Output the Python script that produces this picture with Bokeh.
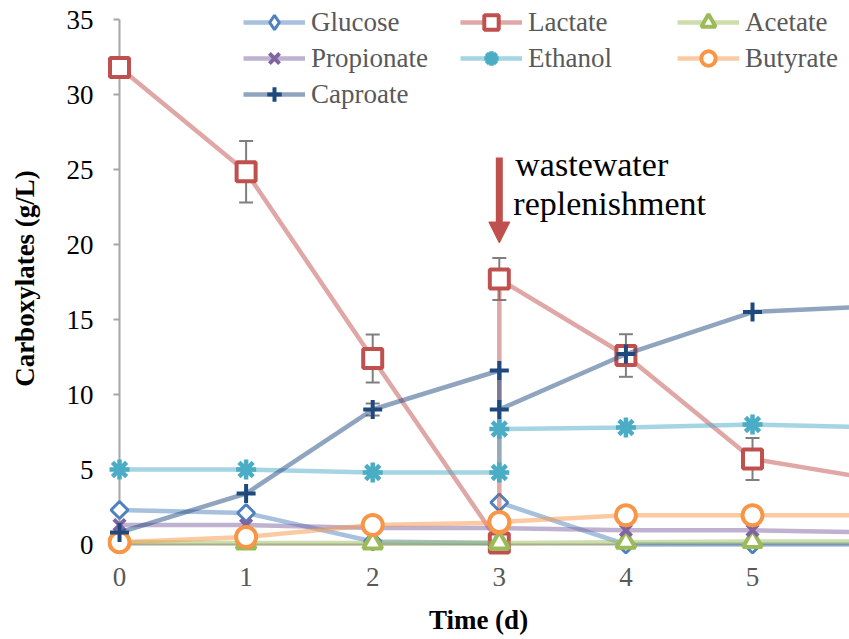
import numpy as np
from bokeh.plotting import figure
from bokeh.models import (Range1d, FixedTicker, Legend, LegendItem, Whisker, TeeHead,
                          Arrow, NormalHead, LinearAxis, Label, ColumnDataSource)
from bokeh.embed import file_html
from bokeh.resources import INLINE

# ---- data ----
time_d = [0, 1, 2, 3, 3, 4, 5, 6]   # day 3 sampled before and after wastewater replenishment
glucose = [2.3, 2.1, 0.2, 0.1, 2.8, 0.0, 0.0, 0.0]
lactate = [31.8, 24.85, 12.4, 0.1, 17.7, 12.6, 5.7, 4.3]
acetate = [0.15, 0.1, 0.1, 0.1, 0.1, 0.15, 0.2, 0.2]
propionate = [1.3, 1.3, 1.1, 1.1, 1.1, 0.95, 0.95, 0.8]
ethanol = [5.0, 5.0, 4.8, 4.8, 7.7, 7.8, 8.0, 7.8]
butyrate = [0.15, 0.5, 1.3, 1.45, 1.5, 1.95, 1.95, 1.95]
caproate = [0.8, 3.4, 9.0, 11.6, 9.0, 12.7, 15.5, 15.9]

lactate_err = [0, 2.05, 1.6, 0, 1.4, 1.42, 1.4, 0]
caproate_err = [0, 0, 0.4, 0, 0, 0, 0, 0]

x_ticks = [0, 1, 2, 3, 4, 5]
y_ticks = [0, 5, 10, 15, 20, 25, 30, 35]

note_lines = ["wastewater", "replenishment"]
note_y = [24.13, 21.47]
note_day = 3

FONT = "Times New Roman"
AXIS_GRAY = "#A6A6A6"

p = figure(width=849, height=639, x_range=Range1d(-0.0948, 5.766), y_range=Range1d(-0.8, 36.27),
           output_backend="svg", toolbar_location=None,
           min_border_left=107, min_border_right=0, min_border_top=0, min_border_bottom=83)
p.xgrid.visible = False
p.ygrid.visible = False
p.outline_line_color = None
p.background_fill_color = "white"
p.border_fill_color = "white"

# y axis: labels only (line and ticks drawn by the helper axis at x=0)
yax = p.yaxis[0]
yax.ticker = FixedTicker(ticks=y_ticks)
yax.axis_line_color = None
yax.major_tick_line_color = None
yax.minor_tick_line_color = None
yax.major_tick_out = 0
yax.major_tick_in = 0
yax.major_label_text_font = FONT
yax.major_label_text_font_size = "27px"
yax.major_label_text_color = "#000000"
yax.major_label_standoff = 14
yax.axis_label = "Carboxylates (g/L)"
yax.axis_label_text_font = FONT
yax.axis_label_text_font_size = "27px"
yax.axis_label_text_font_style = "bold"
yax.axis_label_text_color = "#000000"
yax.axis_label_standoff = 24

# helper axis at x=0: line + tick marks only (ticks as minor ticks, so no labels)
yline = LinearAxis(fixed_location=0, bounds=(0, 35), ticker=FixedTicker(ticks=[], minor_ticks=y_ticks),
                   axis_line_color=AXIS_GRAY, axis_line_width=2,
                   major_tick_line_color=None,
                   minor_tick_line_color=AXIS_GRAY, minor_tick_line_width=2,
                   minor_tick_out=6, minor_tick_in=0, major_label_standoff=0, level="underlay")
p.add_layout(yline, "left")

# x axis: labels only
xax = p.xaxis[0]
xax.ticker = FixedTicker(ticks=x_ticks)
xax.axis_line_color = None
xax.major_tick_line_color = None
xax.minor_tick_line_color = None
xax.major_tick_out = 0
xax.major_tick_in = 0
xax.major_label_text_font = FONT
xax.major_label_text_font_size = "27px"
xax.major_label_text_color = "#595959"
xax.major_label_standoff = 11
xax.axis_label = "Time (d)"
xax.axis_label_text_font = FONT
xax.axis_label_text_font_size = "27px"
xax.axis_label_text_font_style = "bold"
xax.axis_label_text_color = "#000000"
xax.axis_label_standoff = 16

xline = LinearAxis(fixed_location=0, bounds=(0, 10), ticker=FixedTicker(ticks=[]),
                   axis_line_color=AXIS_GRAY, axis_line_width=2,
                   major_tick_line_color=None, minor_tick_line_color=None,
                   major_tick_out=0, major_tick_in=0, major_label_standoff=0, level="underlay")
p.add_layout(xline, "below")

# error bars
def add_err(vals, errs):
    xs = [t for t, e in zip(time_d, errs) if e > 0]
    ys = [v for v, e in zip(vals, errs) if e > 0]
    es = [e for e in errs if e > 0]
    src = ColumnDataSource(dict(x=xs, lo=[a - b for a, b in zip(ys, es)], hi=[a + b for a, b in zip(ys, es)]))
    w = Whisker(base="x", lower="lo", upper="hi", source=src, level="underlay",
                line_color="#7F7F7F", line_width=2,
                upper_head=TeeHead(size=14, line_color="#7F7F7F", line_width=2),
                lower_head=TeeHead(size=14, line_color="#7F7F7F", line_width=2))
    p.add_layout(w)

add_err(lactate, lactate_err)
add_err(caproate, caproate_err)

series = [
    ("Glucose", glucose, "#4F81BD", dict(marker="square", size=12, angle=np.pi / 4, line_width=3, fill_color="white")),
    ("Lactate", lactate, "#C0504D", dict(marker="square", size=19, line_width=4, fill_color="white")),
    ("Acetate", acetate, "#9BBB59", dict(marker="triangle", size=19, line_width=4, fill_color="white")),
    ("Propionate", propionate, "#8064A2", dict(marker="x", size=16, line_width=4)),
    ("Ethanol", ethanol, "#4BACC6", dict(marker="asterisk", size=20, line_width=4.5)),
    ("Butyrate", butyrate, "#F79646", dict(marker="circle", size=20, line_width=4, fill_color="white")),
    ("Caproate", caproate, "#1F497D", dict(marker="cross", size=19, line_width=4)),
]

items = {}
for name, vals, color, mk in series:
    src = ColumnDataSource(dict(x=time_d, y=vals))
    lr = p.line("x", "y", source=src, line_color=color, line_alpha=0.5, line_width=4.5)
    sr = p.scatter("x", "y", source=src, line_color=color, **mk)
    rends = [lr, sr]
    if name == "Glucose":
        # legend-only swatch: diamond shape (marker rotation is not applied in legends)
        dr = p.scatter("x", "y", source=src, marker="diamond", size=20, line_width=3,
                       line_color=color, fill_color="white", visible=False)
        rends = [lr, dr]
    items[name] = LegendItem(label=name, renderers=rends)

def make_legend(names, loc):
    lg = Legend(items=[items[n] for n in names], location=loc, orientation="vertical",
                glyph_width=62, glyph_height=36, label_height=36, label_standoff=6,
                spacing=0, padding=0, margin=0, border_line_color=None,
                background_fill_alpha=0, label_text_font=FONT, label_text_font_size="27px",
                label_text_color="#595959")
    p.add_layout(lg, "center")

make_legend(["Glucose", "Propionate", "Caproate"], (136, 444))
make_legend(["Lactate", "Ethanol"], (353, 480))
make_legend(["Acetate", "Butyrate"], (570, 480))

# annotation
p.add_layout(Arrow(end=NormalHead(size=21, fill_color="#C0504D", line_color="#C0504D"),
                   x_start=note_day, y_start=25.8, x_end=note_day, y_end=20.1,
                   line_color="#C0504D", line_width=7))
for txt, ty, dx in zip(note_lines, note_y, [16, 14]):
    p.add_layout(Label(x=note_day, y=ty, x_offset=dx, text=txt, text_font=FONT,
                       text_font_size="34px", text_color="#000000"))

open("out.html", "w").write(file_html(p, INLINE))
